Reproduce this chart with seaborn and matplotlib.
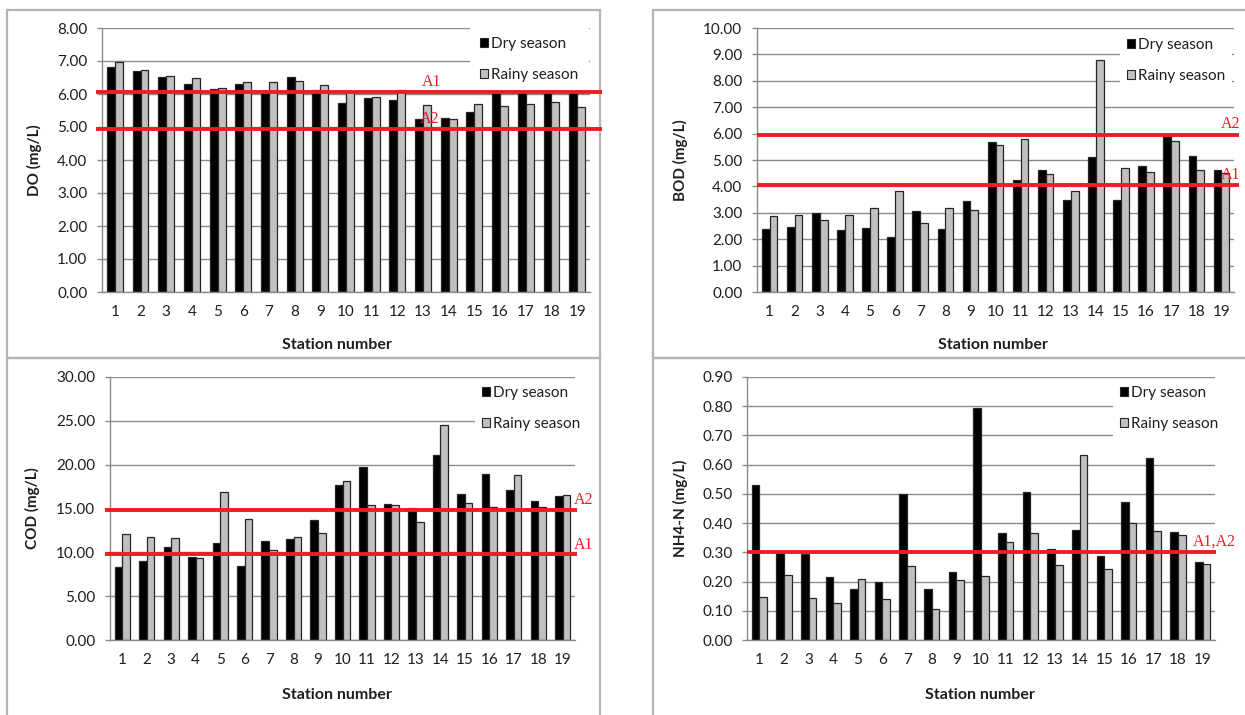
import matplotlib
matplotlib.use("Agg")
import matplotlib.pyplot as plt
from matplotlib.patches import Patch, Rectangle
import matplotlib.transforms as mtransforms
import seaborn as sns
import pandas as pd

# ---------------- data ----------------
station_labels = ["1", "2", "3", "4", "5", "6", "7", "8", "9", "10",
                  "11", "12", "13", "14", "15", "16", "17", "18", "19"]
season_names = ["Dry season", "Rainy season"]

do_dry = [6.82, 6.70, 6.52, 6.31, 6.16, 6.31, 6.05, 6.51, 6.13, 5.74,
          5.89, 5.82, 5.24, 5.27, 5.46, 6.05, 6.05, 6.05, 6.05]
do_rainy = [6.97, 6.74, 6.55, 6.47, 6.19, 6.35, 6.35, 6.40, 6.27, 6.05,
            5.92, 6.11, 5.68, 5.23, 5.69, 5.65, 5.69, 5.77, 5.60]

bod_dry = [2.39, 2.47, 2.98, 2.34, 2.42, 2.09, 3.06, 2.37, 3.44, 5.67,
           4.23, 4.61, 3.50, 5.10, 3.50, 4.76, 5.93, 5.15, 4.61]
bod_rainy = [2.86, 2.91, 2.72, 2.91, 3.20, 3.82, 2.61, 3.20, 3.10, 5.57,
             5.81, 4.47, 3.82, 8.77, 4.71, 4.56, 5.71, 4.64, 4.52]

cod_dry = [8.33, 9.05, 10.65, 9.47, 11.03, 8.44, 11.33, 11.52, 13.69, 17.72,
           19.77, 15.55, 15.10, 21.10, 16.69, 18.94, 17.15, 15.86, 16.43]
cod_rainy = [12.05, 11.75, 11.63, 9.32, 16.88, 13.80, 10.30, 11.75, 12.21, 18.17,
             15.36, 15.36, 13.50, 24.52, 15.67, 15.21, 18.86, 15.21, 16.58]

nh4_dry = [0.532, 0.297, 0.295, 0.214, 0.176, 0.197, 0.498, 0.175, 0.232, 0.793,
           0.366, 0.506, 0.310, 0.375, 0.289, 0.472, 0.624, 0.371, 0.267]
nh4_rainy = [0.148, 0.222, 0.144, 0.127, 0.209, 0.139, 0.253, 0.105, 0.204, 0.218,
             0.335, 0.365, 0.258, 0.632, 0.244, 0.401, 0.374, 0.358, 0.261]

do_limits = [("A1", 6.05), ("A2", 4.95)]
bod_limits = [("A2", 5.95), ("A1", 4.04)]
cod_limits = [("A2", 14.83), ("A1", 9.85)]
nh4_limits = [("A1,A2", 0.30)]

y_labels = ["DO (mg/L)", "BOD (mg/L)", "COD (mg/L)", "NH4-N (mg/L)"]
x_label = "Station number"

# ---------------- style ----------------
W, H = 1245, 715
DPI = 100
sns.set_theme(style="white")
plt.rcParams["font.family"] = ["Lato", "DejaVu Sans"]

DRY_C = "#000000"
RAINY_C = "#c0c0c0"
EDGE_C = "#262626"
GRID_C = "#8c8c8c"
RED_C = "#ee1c25"
FRAME_C = "#b4b4b4"
TEXT_C = "#1e1e1e"

fig = plt.figure(figsize=(W / DPI, H / DPI), dpi=DPI)
fig.patch.set_facecolor("white")


def fx(px):
    return px / W


def fy(py):
    return 1 - py / H


# panel layout in pixels: axes box (left, right, top, bottom)
panels = [
    dict(dry=do_dry, rainy=do_rainy, limits=do_limits, ylabel=y_labels[0],
         box=(102, 590, 28, 292), ymax=8.0, ystep=1.0,
         line_x=(96, 602), legend=(470, 27), lpad=0.65, ylab_x=42, xlab=(337, 338),
         lim_text=[(432, 82), (430, 119)]),
    dict(dry=bod_dry, rainy=bod_rainy, limits=bod_limits, ylabel=y_labels[1],
         box=(757, 1234, 28, 292), ymax=10.0, ystep=1.0,
         line_x=(757, 1239), legend=(1120, 31), lpad=0.45, ylab_x=688, xlab=(993, 338),
         lim_text=[(1231, 124), (1231, 175)]),
    dict(dry=cod_dry, rainy=cod_rainy, limits=cod_limits, ylabel=y_labels[2],
         box=(110, 575, 377, 640), ymax=30.0, ystep=5.0,
         line_x=(105, 577), legend=(475, 379), lpad=0.45, ylab_x=40, xlab=(337, 688),
         lim_text=[(584, 500), (584, 545)]),
    dict(dry=nh4_dry, rainy=nh4_rainy, limits=nh4_limits, ylabel=y_labels[3],
         box=(747, 1215, 377, 640), ymax=0.9, ystep=0.1,
         line_x=(747, 1216), legend=(1113, 379), lpad=0.45, ylab_x=688, xlab=(980, 688),
         lim_text=[(1214, 542)]),
]

# frames around panels
frames = [(7, 10, 600, 358), (653, 10, 1252, 358),
          (7, 358, 600, 722), (653, 358, 1252, 722)]
for (x0, y0, x1, y1) in frames:
    fig.add_artist(Rectangle((fx(x0), fy(y1)), fx(x1) - fx(x0), fy(y0) - fy(y1),
                             transform=fig.transFigure, fill=False,
                             edgecolor=FRAME_C, linewidth=1.6, zorder=0))

for p in panels:
    l, r, t, b = p["box"]
    ax = fig.add_axes([fx(l), fy(b), fx(r) - fx(l), fy(t) - fy(b)])
    df = pd.DataFrame({
        "station": station_labels * 2,
        "season": [season_names[0]] * len(station_labels) + [season_names[1]] * len(station_labels),
        "value": list(p["dry"]) + list(p["rainy"]),
    })
    sns.barplot(data=df, x="station", y="value", hue="season",
                order=station_labels, hue_order=season_names,
                palette=[DRY_C, RAINY_C], width=0.62, gap=0,
                edgecolor=EDGE_C, linewidth=0.9, legend=False, ax=ax,
                errorbar=None, saturation=1)
    ax.set_xlim(-0.5, len(station_labels) - 0.5)
    ax.set_ylim(0, p["ymax"])
    nt = int(round(p["ymax"] / p["ystep"]))
    ax.set_yticks([i * p["ystep"] for i in range(nt + 1)])
    ax.yaxis.set_major_formatter(matplotlib.ticker.FormatStrFormatter("%.2f"))
    ax.set_axisbelow(True)
    ax.yaxis.grid(True, color=GRID_C, linewidth=1.0)
    ax.xaxis.grid(False)
    for s in ["top", "right"]:
        ax.spines[s].set_visible(False)
    for s in ["left", "bottom"]:
        ax.spines[s].set_color(GRID_C)
        ax.spines[s].set_linewidth(1.0)
    ax.tick_params(axis="y", which="both", left=True, length=3.6, width=1.0,
                   color=GRID_C, pad=7, labelsize=11, labelcolor=TEXT_C)
    ax.tick_params(axis="x", which="both", bottom=False, length=0, pad=9,
                   labelsize=11, labelcolor=TEXT_C)
    ax.set_facecolor("white")

    ax.set_ylabel(p["ylabel"], fontsize=11, fontweight="bold", color=TEXT_C)
    ax.yaxis.set_label_coords((p["ylab_x"] - l) / (r - l), 0.5)
    ax.set_xlabel(x_label, fontsize=11.5, fontweight="bold", color=TEXT_C)
    ax.xaxis.set_label_coords((p["xlab"][0] - l) / (r - l), -(p["xlab"][1] - b) / (b - t))

    # standard lines
    trans = mtransforms.blended_transform_factory(ax.transAxes, ax.transData)
    xa0 = (p["line_x"][0] - l) / (r - l)
    xa1 = (p["line_x"][1] - l) / (r - l)
    for (name, val), (tx, ty) in zip(p["limits"], p["lim_text"]):
        ax.plot([xa0, xa1], [val, val], transform=trans, color=RED_C,
                linewidth=2.8, clip_on=False, zorder=6, solid_capstyle="butt")
        fig.text(fx(tx), fy(ty), name, color=RED_C, fontsize=11.5,
                 family=["Liberation Serif", "DejaVu Serif"],
                 ha="center", va="center", zorder=7)

    # legend
    handles = [Patch(facecolor=DRY_C, edgecolor=EDGE_C, linewidth=0.8),
               Patch(facecolor=RAINY_C, edgecolor=EDGE_C, linewidth=0.8)]
    lg = ax.legend(handles, season_names, loc="upper left",
                   bbox_to_anchor=(fx(p["legend"][0]), fy(p["legend"][1])),
                   bbox_transform=fig.transFigure, frameon=True, fancybox=False,
                   facecolor="white", edgecolor="none", framealpha=1,
                   borderpad=p["lpad"], handlelength=0.55, handleheight=0.55,
                   handletextpad=0.2, labelspacing=1.12, fontsize=11,
                   borderaxespad=0)
    lg.set_zorder(5)
    for txt in lg.get_texts():
        txt.set_color(TEXT_C)

fig.savefig("out.png", dpi=DPI, facecolor="white")
